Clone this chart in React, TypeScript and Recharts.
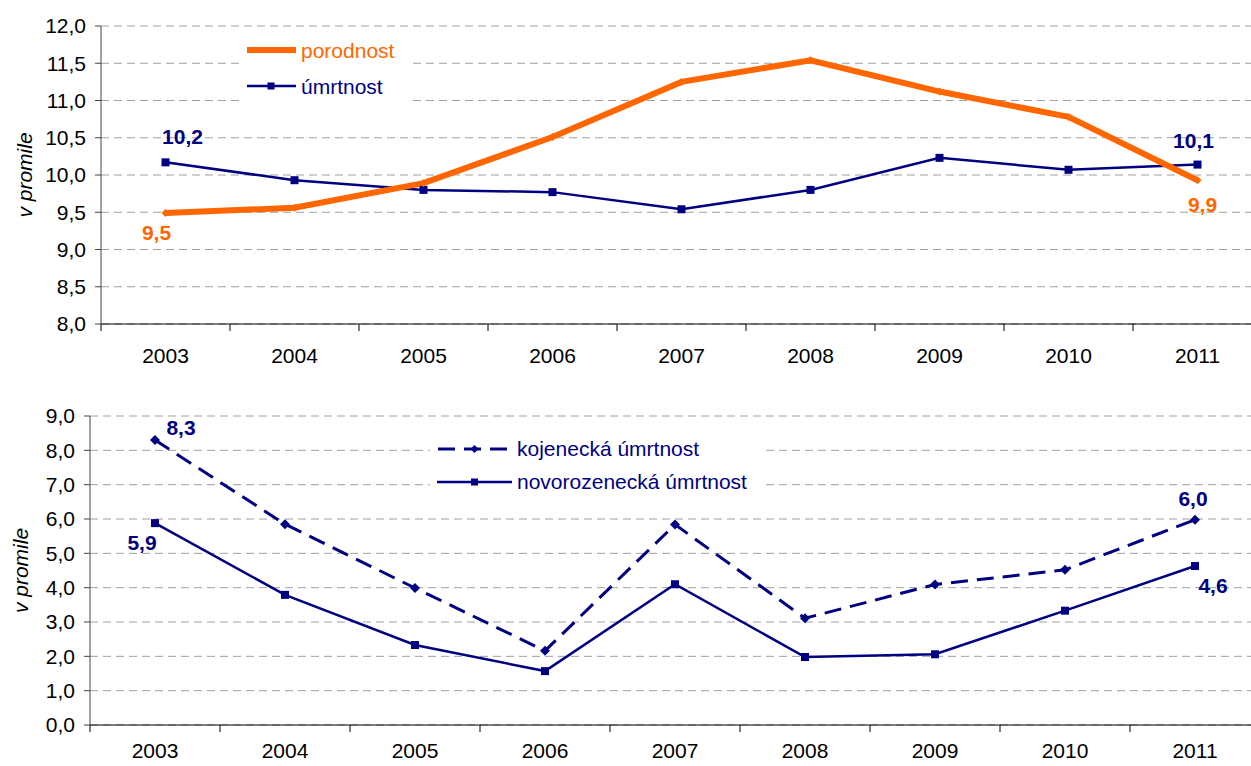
import React from 'react';
import { LineChart, Line, XAxis, YAxis, CartesianGrid, Legend, LabelList } from 'recharts';

const years = ['2003', '2004', '2005', '2006', '2007', '2008', '2009', '2010', '2011'];
const porodnost = [9.49, 9.56, 9.89, 10.51, 11.25, 11.54, 11.12, 10.78, 9.93];
const umrtnost = [10.17, 9.93, 9.8, 9.77, 9.54, 9.8, 10.23, 10.07, 10.14];
const kojenecka = [8.3, 5.85, 3.99, 2.16, 5.84, 3.11, 4.09, 4.52, 5.98];
const novorozenecka = [5.88, 3.79, 2.33, 1.57, 4.1, 1.98, 2.06, 3.33, 4.63];
const topTicks = [8, 8.5, 9, 9.5, 10, 10.5, 11, 11.5, 12];
const bottomTicks = [0, 1, 2, 3, 4, 5, 6, 7, 8, 9];

const NAVY = '#000080';
const ORANGE = '#FF6600';
const FONT = '"Liberation Sans", Arial, Helvetica, sans-serif';
const CHART_W = 1270;

const topData = years.map((year, i) => ({ year, porodnost: porodnost[i], umrtnost: umrtnost[i] }));
const bottomData = years.map((year, i) => ({ year, kojenecka: kojenecka[i], novorozenecka: novorozenecka[i] }));

const fmt = (v: number) => v.toFixed(1).replace('.', ',');

// category labels centred, tick marks between categories (excel style)
const makeYearTick = (band: number, textOffset: number) => (props: any) => {
  const { x, y, payload } = props;
  const left = x - band / 2;
  return (
    <g>
      <line x1={left} y1={y} x2={left} y2={y + 7} stroke="#000" strokeWidth={1} />
      <text x={x} y={y + textOffset} textAnchor="middle" fontSize={21} fill="#000">
        {payload.value}
      </text>
    </g>
  );
};

const axisTitle = (dx: number) => (props: any) => {
  const vb = props.viewBox;
  return (
    <text
      transform={`translate(${vb.x + dx}, ${vb.y + vb.height / 2}) rotate(-90)`}
      textAnchor="middle"
      dominantBaseline="central"
      fontStyle="italic"
      fontSize={21}
      fill="#000"
    >
      v promile
    </text>
  );
};

type Off = { first: [number, number]; last: [number, number] };
const endLabel = (color: string, off: Off) => (props: any) => {
  const { value, index } = props;
  const x = props.x ?? props.viewBox?.x;
  const y = props.y ?? props.viewBox?.y;
  let o: [number, number] | null = null;
  if (index === 0) o = off.first;
  else if (index === years.length - 1) o = off.last;
  if (!o) return null;
  return (
    <text x={x + o[0]} y={y + o[1]} textAnchor="middle" dominantBaseline="central" fontWeight="bold" fontSize={21} fill={color}>
      {fmt(value)}
    </text>
  );
};

const squareDot = (size: number) => (p: any) => (
  <rect key={`sq-${p.index}`} x={p.cx - size / 2} y={p.cy - size / 2} width={size} height={size} fill={NAVY} />
);
const diamondDot = (r: number, color: string) => (p: any) => (
  <polygon
    key={`dm-${p.index}`}
    points={`${p.cx},${p.cy - r} ${p.cx + r},${p.cy} ${p.cx},${p.cy + r} ${p.cx - r},${p.cy}`}
    fill={color}
  />
);

const LegendRow = ({ sample, label, color, height, width }: any) => (
  <div style={{ display: 'flex', alignItems: 'center', height }}>
    <svg width={width} height={14} style={{ marginRight: 5, flexShrink: 0 }}>
      {sample}
    </svg>
    <span style={{ fontSize: 21, color, whiteSpace: 'nowrap', lineHeight: 1 }}>{label}</span>
  </div>
);

const TopLegend = () => (
  <div style={{ background: '#fff', paddingLeft: 7, width: 168, boxSizing: 'border-box', fontFamily: FONT }}>
    <LegendRow
      height={36}
      width={49}
      color={ORANGE}
      label="porodnost"
      sample={
        <g>
          <line x1={1} y1={7} x2={48} y2={7} stroke={ORANGE} strokeWidth={6} strokeLinecap="round" />
        </g>
      }
    />
    <LegendRow
      height={36}
      width={49}
      color={NAVY}
      label="úmrtnost"
      sample={
        <g>
          <line x1={0} y1={7} x2={49} y2={7} stroke={NAVY} strokeWidth={2.5} />
          <rect x={20.5} y={3.5} width={7} height={7} fill={NAVY} />
        </g>
      }
    />
  </div>
);

const BottomLegend = () => (
  <div style={{ background: '#fff', paddingLeft: 7, width: 333, boxSizing: 'border-box', fontFamily: FONT }}>
    <LegendRow
      height={33}
      width={75}
      color={NAVY}
      label="kojenecká úmrtnost"
      sample={
        <g>
          <line x1={0} y1={7} x2={75} y2={7} stroke={NAVY} strokeWidth={3} strokeDasharray="17 9" strokeDashoffset={-1} />
          <polygon points="37.5,3 41.5,7 37.5,11 33.5,7" fill={NAVY} />
        </g>
      }
    />
    <LegendRow
      height={33}
      width={75}
      color={NAVY}
      label="novorozenecká úmrtnost"
      sample={
        <g>
          <line x1={0} y1={7} x2={75} y2={7} stroke={NAVY} strokeWidth={2.5} />
          <rect x={34} y={3.5} width={7} height={7} fill={NAVY} />
        </g>
      }
    />
  </div>
);

const TopChart = () => {
  const yW = 101;
  const margin = { top: 26, right: 8, bottom: 0, left: 0 };
  const band = (CHART_W - yW - margin.left - margin.right) / years.length;
  return (
    <LineChart width={CHART_W} height={380} data={topData} margin={margin}>
      <CartesianGrid vertical={false} stroke="#a0a0a0" strokeDasharray="8 5" />
      <XAxis
        dataKey="year"
        scale="band"
        interval={0}
        height={56}
        tickSize={0}
        tickMargin={0}
        tickLine={false}
        axisLine={{ stroke: '#000' }}
        tick={makeYearTick(band, 39)}
      />
      <YAxis
        width={yW}
        domain={[8, 12]}
        ticks={topTicks}
        interval={0}
        tickSize={6}
        tickMargin={9}
        tickFormatter={fmt}
        tick={{ fontSize: 21, fill: '#000' }}
        axisLine={{ stroke: '#444' }}
        tickLine={{ stroke: '#444' }}
        label={{ content: axisTitle(24) }}
      />
      <Legend
        layout="horizontal"
        verticalAlign="middle"
        align="center"
        content={<TopLegend />}
        wrapperStyle={{ left: 240, top: 32, width: 168 }}
      />
      <Line
        dataKey="umrtnost"
        stroke={NAVY}
        strokeWidth={2.5}
        dot={squareDot(8)}
        activeDot={false}
        isAnimationActive={false}
      >
        <LabelList dataKey="umrtnost" content={endLabel(NAVY, { first: [17, -26], last: [-4, -24] })} />
      </Line>
      <Line
        dataKey="porodnost"
        stroke={ORANGE}
        strokeWidth={6}
        dot={diamondDot(4, ORANGE)}
        activeDot={false}
        isAnimationActive={false}
      >
        <LabelList dataKey="porodnost" content={endLabel(ORANGE, { first: [-9, 20], last: [5, 24] })} />
      </Line>
    </LineChart>
  );
};

const BottomChart = () => {
  const yW = 90;
  const margin = { top: 26, right: 10, bottom: 0, left: 0 };
  const band = (CHART_W - yW - margin.left - margin.right) / years.length;
  return (
    <LineChart width={CHART_W} height={376} data={bottomData} margin={margin}>
      <CartesianGrid vertical={false} stroke="#a0a0a0" strokeDasharray="8 5" />
      <XAxis
        dataKey="year"
        scale="band"
        interval={0}
        height={41}
        tickSize={0}
        tickMargin={0}
        tickLine={false}
        axisLine={{ stroke: '#000' }}
        tick={makeYearTick(band, 33)}
      />
      <YAxis
        width={yW}
        domain={[0, 9]}
        ticks={bottomTicks}
        interval={0}
        tickSize={6}
        tickMargin={9}
        tickFormatter={fmt}
        tick={{ fontSize: 21, fill: '#000' }}
        axisLine={{ stroke: '#444' }}
        tickLine={{ stroke: '#444' }}
        label={{ content: axisTitle(20) }}
      />
      <Legend
        layout="horizontal"
        verticalAlign="middle"
        align="center"
        content={<BottomLegend />}
        wrapperStyle={{ left: 430, top: 42, width: 333 }}
      />
      <Line
        dataKey="kojenecka"
        stroke={NAVY}
        strokeWidth={3}
        strokeDasharray="17 9"
        dot={diamondDot(5, NAVY)}
        activeDot={false}
        isAnimationActive={false}
      >
        <LabelList dataKey="kojenecka" content={endLabel(NAVY, { first: [26, -13], last: [-2, -21] })} />
      </Line>
      <Line
        dataKey="novorozenecka"
        stroke={NAVY}
        strokeWidth={2.5}
        dot={squareDot(8)}
        activeDot={false}
        isAnimationActive={false}
      >
        <LabelList dataKey="novorozenecka" content={endLabel(NAVY, { first: [-13, 19], last: [18, 19] })} />
      </Line>
    </LineChart>
  );
};

export default function App() {
  return (
    <div
      style={{
        position: 'absolute',
        left: 0,
        top: 0,
        width: 1251,
        height: 766,
        overflow: 'hidden',
        background: '#fff',
        fontFamily: FONT,
      }}
    >
      <div style={{ position: 'absolute', left: 0, top: 0 }}>
        <TopChart />
      </div>
      <div style={{ position: 'absolute', left: 0, top: 390 }}>
        <BottomChart />
      </div>
    </div>
  );
}
